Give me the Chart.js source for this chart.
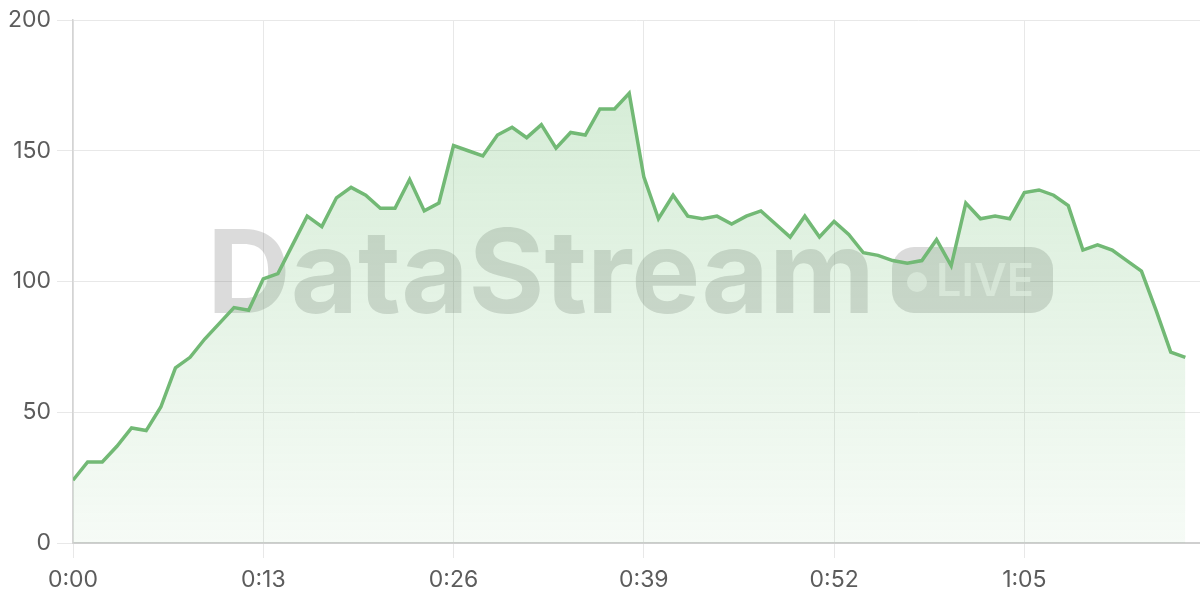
<!DOCTYPE html>
<html>
<head>
<meta charset="utf-8">
<script src="https://cdn.jsdelivr.net/npm/chart.js@4.4.1/dist/chart.umd.min.js"></script>
<style>
  html, body { margin: 0; padding: 0; background: #fff; }
  #wrap { width: 1200px; height: 600px; position: relative; }
</style>
</head>
<body>
<div id="wrap"><canvas id="chart"></canvas></div>
<script>
// elapsed seconds (x) and readings (y)
const elapsed = [0, 1, 2, 3, 4, 5, 6, 7, 8, 9, 10, 11, 12, 13, 14, 15, 16, 17, 18, 19,
    20, 21, 22, 23, 24, 25, 26, 27, 28, 29, 30, 31, 32, 33, 34, 35, 36, 37, 38, 39,
    40, 41, 42, 43, 44, 45, 46, 47, 48, 49, 50, 51, 52, 53, 54, 55, 56, 57, 58, 59,
    60, 61, 62, 63, 64, 65, 66, 67, 68, 69, 70, 71, 72, 73, 74, 75, 76];
const readings = [24, 31, 31, 37, 44, 43, 52, 67, 71, 78, 84, 90, 89, 101, 103, 114, 125, 121, 132, 136,
    133, 128, 128, 139, 127, 130, 152, 150, 148, 156, 159, 155, 160, 151, 157, 156, 166, 166, 172, 140,
    124, 133, 125, 124, 125, 122, 125, 127, 122, 117, 125, 117, 123, 118, 111, 110, 108, 107, 108, 116,
    106, 130, 124, 125, 124, 134, 135, 133, 129, 112, 114, 112, 108, 104, 89, 73, 71];
const xTicks = [0, 13, 26, 39, 52, 65];
const yTicks = [0, 50, 100, 150, 200];

const tickFont = { family: 'Inter', size: 23 };
const tickColor = '#5c5c5c';

function fmtTime(s) {
    const m = Math.floor(s / 60);
    const sec = s % 60;
    return m + ':' + (sec < 10 ? '0' : '') + sec;
}

// watermark behind the line
const watermark = {
    id: 'watermark',
    beforeDatasetsDraw(chart) {
        const ctx = chart.ctx;
        ctx.save();
        ctx.fillStyle = 'rgba(105, 105, 105, 0.24)';
        ctx.font = 'bold 116px Inter';
        ctx.textBaseline = 'alphabetic';
        ctx.textAlign = 'left';
        ctx.fillText('DataStream', 207, 313);

        // LIVE pill
        ctx.beginPath();
        ctx.roundRect(892, 247, 161, 66, 22);
        ctx.fill();
        ctx.fillStyle = 'rgba(255, 255, 255, 0.55)';
        ctx.beginPath();
        ctx.arc(917, 282, 10, 0, Math.PI * 2);
        ctx.fill();
        ctx.font = '600 45px Inter';
        ctx.fillText('LIVE', 936, 296);
        ctx.restore();
    }
};

const ctx = document.getElementById('chart').getContext('2d');
const grad = ctx.createLinearGradient(0, 20, 0, 543);
grad.addColorStop(0, 'rgba(102, 187, 106, 0.30)');
grad.addColorStop(1, 'rgba(102, 187, 106, 0.06)');

new Chart(ctx, {
    type: 'line',
    data: {
        labels: elapsed,
        datasets: [{
            data: readings,
            borderColor: '#72b975',
            borderWidth: 3.5,
            backgroundColor: grad,
            fill: 'origin',
            pointRadius: 0,
            tension: 0
        }]
    },
    options: {
        responsive: true,
        maintainAspectRatio: false,
        animation: false,
        layout: { padding: { top: 20, right: 0, left: 0, bottom: 0 } },
        plugins: {
            legend: { display: false },
            tooltip: { enabled: false }
        },
        scales: {
            x: {
                type: 'linear',
                min: 0,
                max: 77,
                afterBuildTicks: (scale) => {
                    scale.ticks = xTicks.map(v => ({ value: v }));
                },
                afterFit: (scale) => { scale.height = 57; },
                grid: { color: '#e8e8e8', tickLength: 15, tickColor: '#e8e8e8' },
                border: { color: '#cfcfcf', width: 2 },
                ticks: {
                    font: tickFont,
                    color: tickColor,
                    padding: 8,
                    maxRotation: 0,
                    callback: (v) => fmtTime(v)
                }
            },
            y: {
                min: 0,
                max: 200,
                afterBuildTicks: (scale) => {
                    scale.ticks = yTicks.map(v => ({ value: v }));
                },
                afterFit: (scale) => { scale.width = 73; },
                grid: { color: '#e8e8e8', tickLength: 16, tickColor: '#e8e8e8' },
                border: { color: '#d4d4d4', width: 1.5 },
                ticks: {
                    font: tickFont,
                    color: tickColor,
                    padding: 6
                }
            }
        }
    },
    plugins: [watermark]
});
</script>
</body>
</html>
